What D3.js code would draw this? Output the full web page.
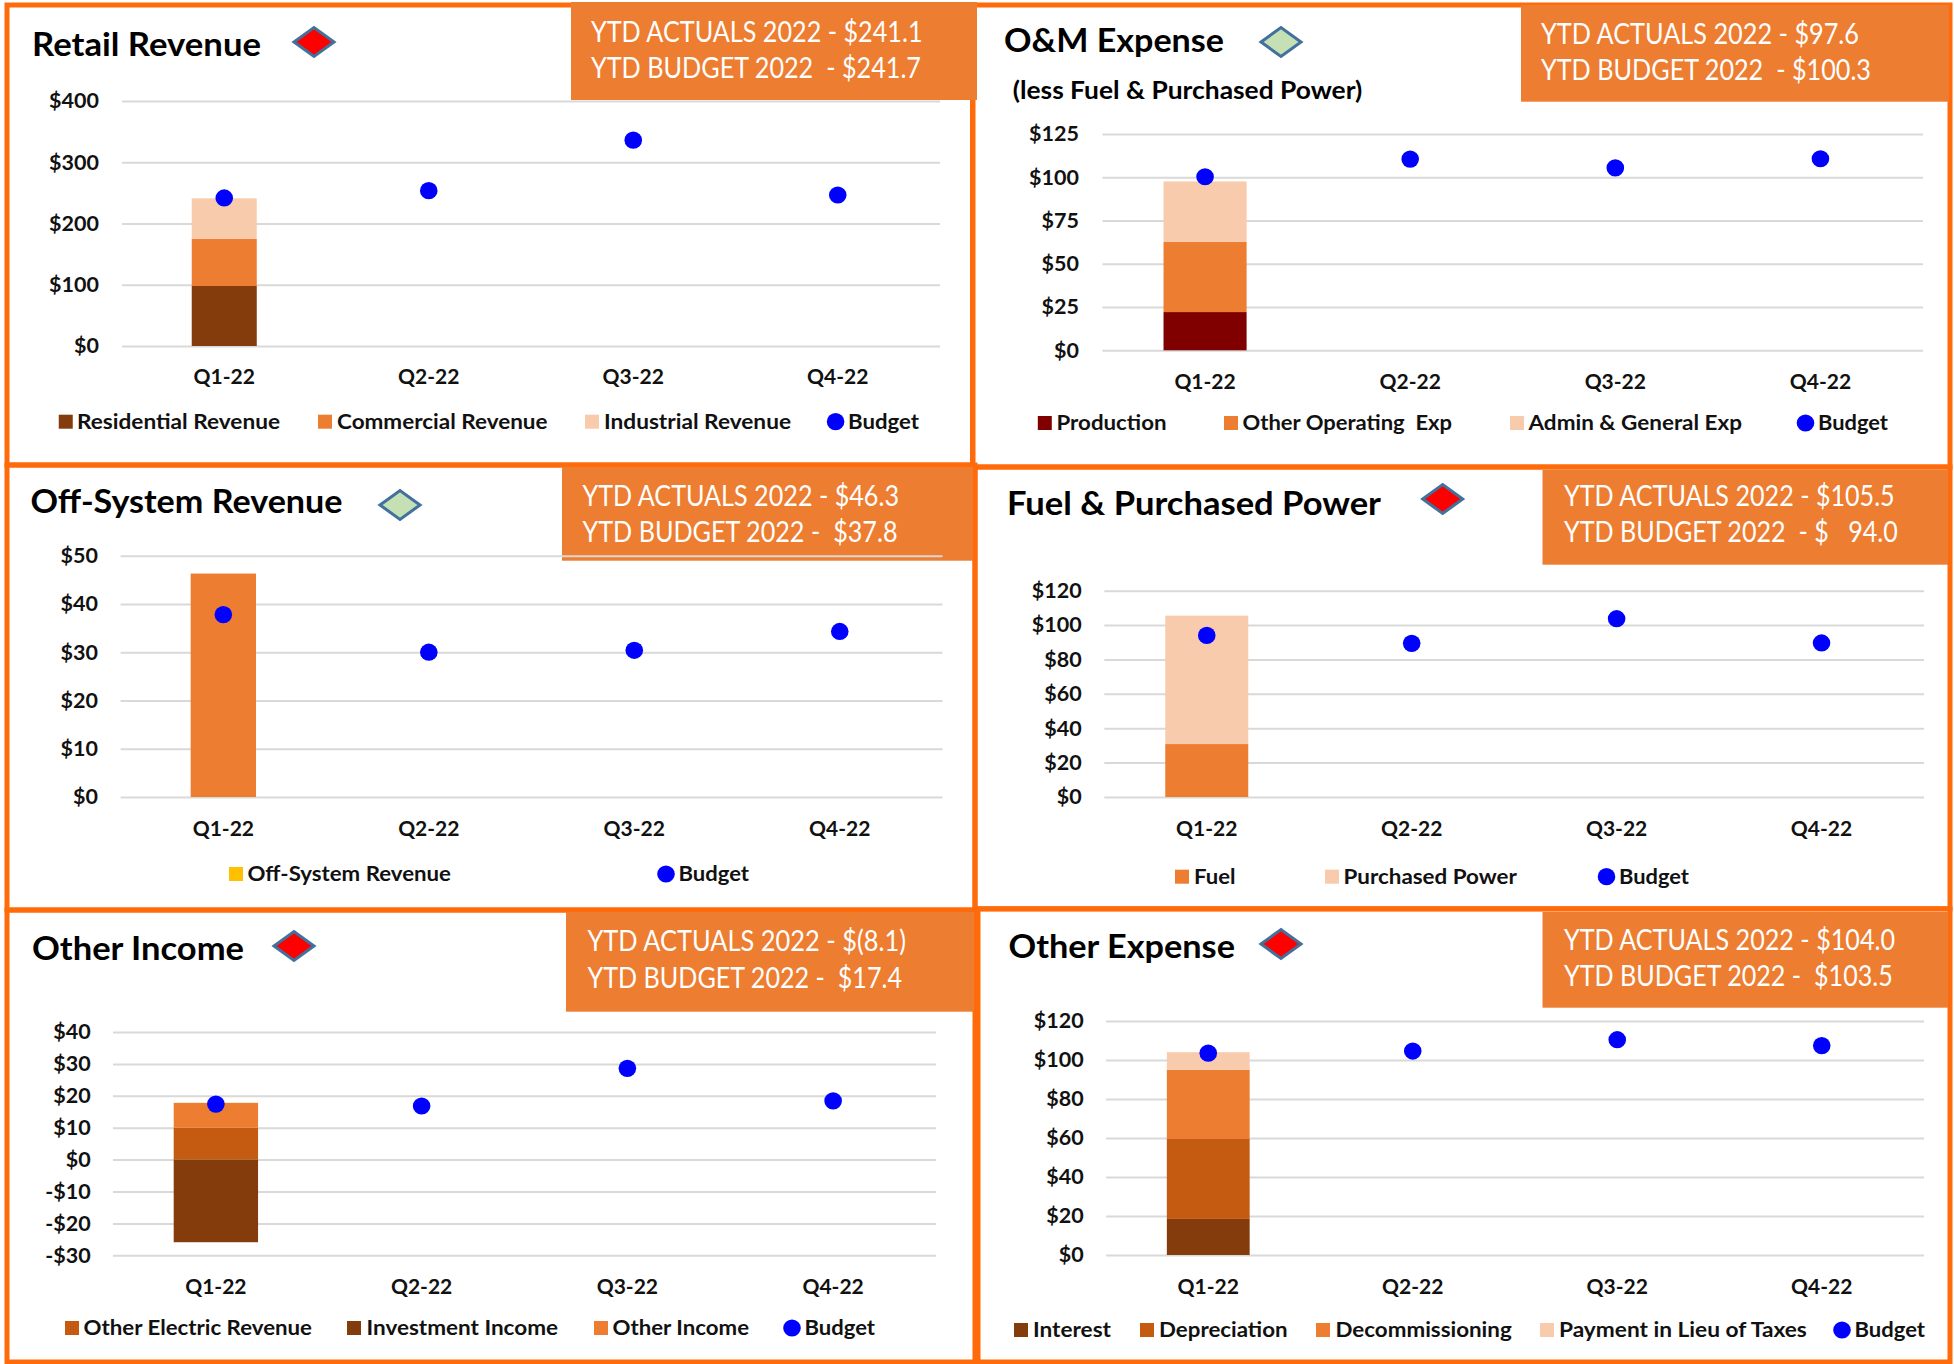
<!DOCTYPE html>
<html><head><meta charset="utf-8">
<script src="https://cdn.jsdelivr.net/npm/d3@7/dist/d3.min.js"></script>
<style>
html,body{margin:0;padding:0;background:#fff}
svg{display:block}
text{font-family:Lato,"Open Sans",sans-serif;white-space:pre}
</style></head><body><svg id="c" width="1954" height="1364"></svg>
<script>
const categories = ["Q1-22","Q2-22","Q3-22","Q4-22"];

const retailTicks = [0,100,200,300,400];
const retailResidential = [98,0,0,0];
const retailCommercial = [76.7,0,0,0];
const retailIndustrial = [66.4,0,0,0];
const retailBudget = [241.7,253.6,336,246.5];

const omTicks = [0,25,50,75,100,125];
const omProduction = [22.1,0,0,0];
const omOtherOperating = [40.5,0,0,0];
const omAdminGeneral = [35,0,0,0];
const omBudget = [100.3,110.5,105.4,110.7];

const offSystemTicks = [0,10,20,30,40,50];
const offSystemRevenue = [46.3,0,0,0];
const offSystemBudget = [37.8,30,30.4,34.3];

const fuelTicks = [0,20,40,60,80,100,120];
const fuelFuel = [30.8,0,0,0];
const fuelPurchased = [74.7,0,0,0];
const fuelBudget = [94,89.4,103.7,89.6];

const incomeTicks = [-30,-20,-10,0,10,20,30,40];
const incomeElectric = [10,0,0,0];
const incomeInvestment = [-25.9,0,0,0];
const incomeOther = [7.8,0,0,0];
const incomeBudget = [17.4,16.8,28.6,18.4];

const expenseTicks = [0,20,40,60,80,100,120];
const expenseInterest = [18.5,0,0,0];
const expenseDepreciation = [41,0,0,0];
const expenseDecommissioning = [35.4,0,0,0];
const expensePilot = [9.1,0,0,0];
const expenseBudget = [103.5,104.6,110.4,107.4];

const BROWN="#843C0C",ORANGE="#ED7D31",PEACH="#F8CBAD",RUST="#C55A11",MAROON="#800000",GOLD="#FFC000",BLUE="#0000FF";
const RED="#FF0000",GREEN="#C5E0B4";

const panels = [
 {title:"Retail Revenue",tp:[32,55,229],flag:RED,flagAt:[314,42],
  frame:[7,5,973,465],box:[571,2,977,100],
  ytd:["YTD ACTUALS 2022 - $241.1","YTD BUDGET 2022  - $241.7"],ytdP:[591,40.7,76.7,331.5,330],
  ticks:retailTicks,plot:[122,940,101,346],barFrac:.318,labR:99,catY:383.3,
  series:[["Residential Revenue",retailResidential,BROWN],["Commercial Revenue",retailCommercial,ORANGE],["Industrial Revenue",retailIndustrial,PEACH]],
  budget:retailBudget,legY:427.7,
  leg:[[58.75,77,280],[318,337,547.5],[585,604,791]],legB:[835.6,848,919]},
 {title:"O&M Expense",tp:[1004,51,220],flag:GREEN,flagAt:[1281,42],
  sub:["(less Fuel & Purchased Power)",1012.7,97.7,349.5],
  frame:[972.5,5,1950,467],box:[1521,5,1949,101.7],
  ytd:["YTD ACTUALS 2022 - $97.6","YTD BUDGET 2022  - $100.3"],ytdP:[1541,42.7,79,318,330],
  ticks:omTicks,plot:[1102.5,1923,134,350.3],barFrac:.405,labR:1079,catY:387.7,
  series:[["Production",omProduction,MAROON],["Other Operating  Exp",omOtherOperating,ORANGE],["Admin & General Exp",omAdminGeneral,PEACH]],
  budget:omBudget,legY:429,
  leg:[[1037.8,1056.5,1166.5],[1224,1242.5,1452],[1510,1528.5,1742]],legB:[1805.5,1818,1888]},
 {title:"Off-System Revenue",tp:[30.5,511.7,312],flag:GREEN,flagAt:[400,505],
  frame:[7,465,975,910],box:[562,467,973,560.7],
  ytd:["YTD ACTUALS 2022 - $46.3","YTD BUDGET 2022 -  $37.8"],ytdP:[582.5,505,541,316.5,315],
  ticks:offSystemTicks,plot:[120.6,942.5,555.7,797],barFrac:.318,labR:98,catY:835,
  series:[["Off-System Revenue",offSystemRevenue,ORANGE]],legendColors:[GOLD],
  budget:offSystemBudget,legY:880,
  leg:[[229,247.5,451]],legB:[666,678.5,749]},
 {title:"Fuel & Purchased Power",tp:[1007,514,374],flag:RED,flagAt:[1442.7,499],
  frame:[975,467,1950,908.7],box:[1542.5,470,1948,564.7],
  ytd:["YTD ACTUALS 2022 - $105.5","YTD BUDGET 2022  - $   94.0"],ytdP:[1564,505,541,330.7,333.8],
  ticks:fuelTicks,plot:[1104.3,1924,590.7,797],barFrac:.405,labR:1081.7,catY:835,
  series:[["Fuel",fuelFuel,ORANGE],["Purchased Power",fuelPurchased,PEACH]],
  budget:fuelBudget,legY:882.7,
  leg:[[1175,1194,1235.5],[1325,1343.5,1516.8]],legB:[1606.5,1619,1689]},
 {title:"Other Income",tp:[32,959,212],flag:RED,flagAt:[294,946],
  frame:[7,910,975,1362],box:[566,912,974,1011.7],
  ytd:["YTD ACTUALS 2022 - $(8.1)","YTD BUDGET 2022 -  $17.4"],ytdP:[587.5,950,986.7,318.5,314.5],
  ticks:incomeTicks,plot:[113,936,1032,1255.3],barFrac:.41,labR:90.6,catY:1292.7,
  series:[["Other Electric Revenue",incomeElectric,RUST],["Investment Income",incomeInvestment,BROWN],["Other Income",incomeOther,ORANGE]],
  budget:incomeBudget,legY:1334,
  leg:[[65,83.5,312],[347,366.5,558],[594,612.5,749]],legB:[792,804.5,875]},
 {title:"Other Expense",tp:[1008.5,956.7,226.5],flag:RED,flagAt:[1281,944],
  frame:[978,909,1950,1362],box:[1542.5,912,1948,1007.7],
  ytd:["YTD ACTUALS 2022 - $104.0","YTD BUDGET 2022 -  $103.5"],ytdP:[1564,949,985,331,328.8],
  ticks:expenseTicks,plot:[1106,1924,1021,1255],barFrac:.405,labR:1083.6,catY:1292.7,
  series:[["Interest",expenseInterest,BROWN],["Depreciation",expenseDepreciation,RUST],["Decommissioning",expenseDecommissioning,ORANGE],["Payment in Lieu of Taxes",expensePilot,PEACH]],
  budget:expenseBudget,legY:1336,
  leg:[[1014,1033,1111],[1140,1159,1287.6],[1316,1335.5,1511.7],[1540,1559,1806.8]],legB:[1842,1854.5,1925]}
];

const svg=d3.select("#c");
svg.append("rect").attr("width",1954).attr("height",1364).attr("fill","#fff");
const fmt=d=>d<0?"-$"+Math.abs(d):"$"+d;
const fit=(s,x,y,len,size,weight,fill)=>s.append("text").attr("x",x).attr("y",y+1)
  .attr("textLength",len).attr("lengthAdjust","spacingAndGlyphs")
  .attr("font-size",size).attr("font-weight",weight).attr("fill",fill);

panels.forEach(p=>{
  const [l,t,r,b]=p.frame;
  svg.append("rect").attr("x",l).attr("y",t).attr("width",r-l).attr("height",b-t)
    .attr("fill","none").attr("stroke","#FF6A0A").attr("stroke-width",5);
});

panels.forEach(p=>{
  const g=svg.append("g");
  const [bl,bt,br,bb]=p.box;
  g.append("rect").attr("x",bl).attr("y",bt).attr("width",br-bl).attr("height",bb-bt).attr("fill",ORANGE);
  fit(g,p.ytdP[0],p.ytdP[1],p.ytdP[3],29,400,"#fff").text(p.ytd[0]);
  fit(g,p.ytdP[0],p.ytdP[2],p.ytdP[4],29,400,"#fff").text(p.ytd[1]);

  fit(g,p.tp[0],p.tp[1],p.tp[2],33,700,"#000").text(p.title);
  if(p.sub) fit(g,p.sub[1],p.sub[2],p.sub[3],24.5,700,"#000").text(p.sub[0]);

  const [fx,fy]=p.flagAt;
  g.append("path").attr("d",d3.line()([[fx-20,fy],[fx,fy-14.5],[fx+20,fy],[fx,fy+14.5]])+"Z")
    .attr("fill",p.flag).attr("stroke","#41719C").attr("stroke-width",3);

  const [x0,x1,yTop,yBot]=p.plot;
  const x=d3.scaleBand().domain(categories).range([x0,x1]).paddingInner(1-p.barFrac).paddingOuter((1-p.barFrac)/2);
  const y=d3.scaleLinear().domain(d3.extent(p.ticks)).range([yBot,yTop]);

  const ya=d3.axisLeft(y).tickValues(p.ticks).tickFormat(fmt).tickSize(-(x1-x0)).tickPadding(x0-p.labR);
  const yg=g.append("g").attr("transform",`translate(${x0},0)`).call(ya);
  yg.select(".domain").remove();
  yg.selectAll("line").attr("stroke","#D9D9D9").attr("stroke-width",2);
  yg.selectAll("text").attr("font-size",21.5).attr("font-weight",700).attr("fill","#111").attr("font-family","Lato").attr("dy","0.32em");

  const xa=d3.axisBottom(x).tickSize(0).tickPadding(0);
  const xg=g.append("g").attr("transform",`translate(0,${p.catY+1})`).call(xa);
  xg.select(".domain").remove();
  xg.selectAll("text").attr("y",0).attr("dy",0).attr("font-size",21).attr("font-weight",700).attr("fill","#111").attr("font-family","Lato");

  const rows=categories.map((c,i)=>{const o={cat:c};p.series.forEach(s=>o[s[0]]=s[1][i]);return o;});
  const layers=d3.stack().keys(p.series.map(s=>s[0])).offset(d3.stackOffsetDiverging)(rows);
  layers.forEach((ly,k)=>{
    g.append("g").selectAll("rect").data(ly.filter(d=>d[1]!==d[0])).join("rect")
      .attr("x",d=>x(d.data.cat)).attr("width",x.bandwidth())
      .attr("y",d=>y(d[1])).attr("height",d=>y(d[0])-y(d[1]))
      .attr("fill",p.series[k][2]);
  });

  g.append("g").selectAll("ellipse").data(p.budget.map((v,i)=>[categories[i],v])).join("ellipse")
    .attr("cx",d=>x(d[0])+x.bandwidth()/2).attr("cy",d=>y(d[1])).attr("rx",8.8).attr("ry",8.6).attr("fill",BLUE);

  p.series.forEach((s,i)=>{
    const [sx,tx,te]=p.leg[i];
    g.append("rect").attr("x",sx).attr("y",p.legY-13).attr("width",14).attr("height",14)
      .attr("fill",(p.legendColors&&p.legendColors[i])||s[2]);
    fit(g,tx,p.legY,te-tx,21,700,"#111").text(s[0]);
  });
  const [dx,tx,te]=p.legB;
  g.append("ellipse").attr("cx",dx).attr("cy",p.legY-6).attr("rx",8.8).attr("ry",8.6).attr("fill",BLUE);
  fit(g,tx,p.legY,te-tx,21,700,"#111").text("Budget");
});
</script></body></html>
